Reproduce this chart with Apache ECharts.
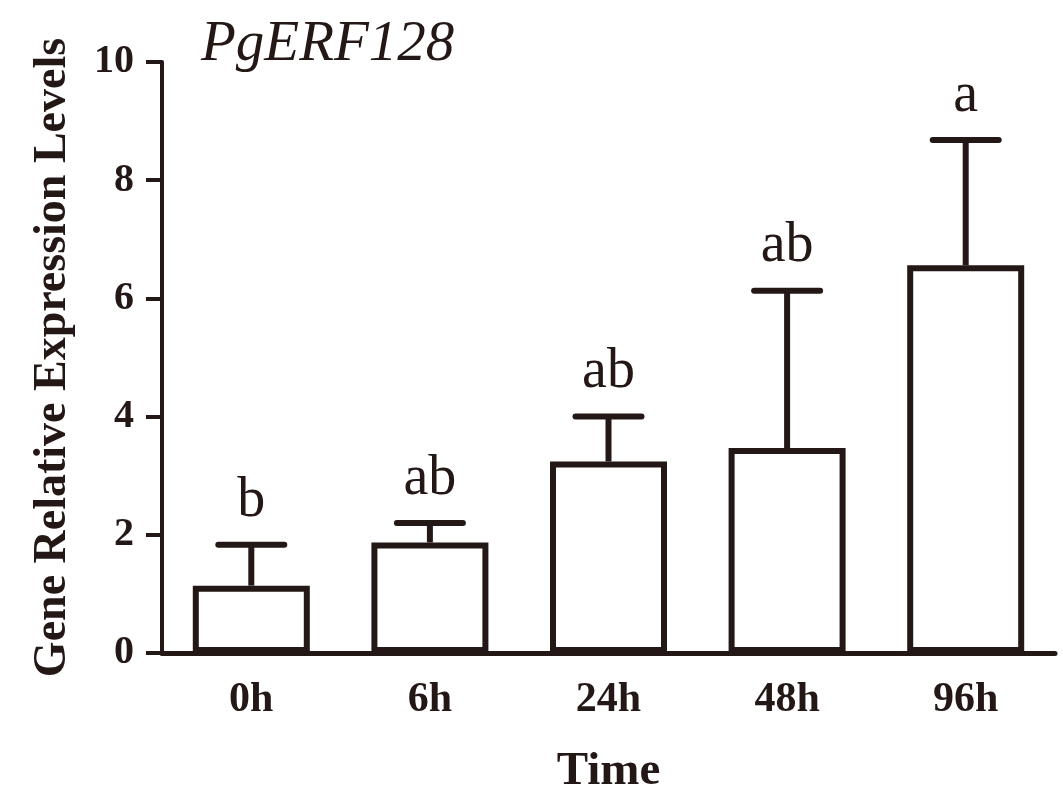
<!DOCTYPE html>
<html>
<head>
<meta charset="utf-8">
<script src="https://cdn.jsdelivr.net/npm/echarts@6/dist/echarts.min.js"></script>
<style>
  html, body { margin: 0; padding: 0; background: #fff; }
  #chart { width: 1063px; height: 788px; }
</style>
</head>
<body>
<div id="chart"></div>
<script>
// data
var times = ["0h", "6h", "24h", "48h", "96h"];
var means = [1.14, 1.87, 3.24, 3.47, 6.56];
var errTops = [1.83, 2.20, 4.00, 6.13, 8.68];
var letters = ["b", "ab", "ab", "ab", "a"];
var yTicks = [0, 2, 4, 6, 8, 10];

var ink = "#231815";
var serif = "'Liberation Serif', 'Times New Roman', serif";

var chartDom = document.getElementById("chart");
var myChart = echarts.init(chartDom);

var errData = times.map(function (t, i) {
  return [i, means[i], errTops[i]];
});

function renderErr(params, api) {
  var base = api.coord([api.value(0), api.value(1)]);
  var top = api.coord([api.value(0), api.value(2)]);
  var half = 33;
  var st = { stroke: ink, lineWidth: 6, lineCap: "round" };
  return {
    type: "group",
    children: [
      { type: "line", shape: { x1: base[0], y1: base[1], x2: top[0], y2: top[1] }, style: { stroke: ink, lineWidth: 6 } },
      { type: "line", shape: { x1: top[0] - half, y1: top[1], x2: top[0] + half, y2: top[1] }, style: st },
      {
        type: "text",
        x: top[0],
        y: top[1] - 16,
        style: {
          text: letters[params.dataIndex],
          fill: ink,
          font: "56px " + serif,
          align: "center",
          verticalAlign: "bottom"
        }
      }
    ]
  };
}

var option = {
  animation: false,
  backgroundColor: "#fff",
  title: {
    text: "PgERF128",
    left: 196,
    top: 12,
    textStyle: {
      fontFamily: serif,
      fontStyle: "italic",
      fontWeight: "normal",
      fontSize: 57,
      color: ink
    }
  },
  grid: { left: 162, right: 8, top: 62, bottom: 135, outerBoundsMode: "none" },
  xAxis: {
    type: "category",
    data: times,
    name: "Time",
    nameLocation: "middle",
    nameGap: 95,
    nameTextStyle: { fontFamily: serif, fontWeight: "bold", fontSize: 47, color: ink },
    axisLine: { lineStyle: { color: ink, width: 5 } },
    axisTick: { alignWithLabel: true, length: 16, lineStyle: { color: ink, width: 4 } },
    axisLabel: { margin: 26, fontFamily: serif, fontWeight: "bold", fontSize: 42, color: ink }
  },
  yAxis: {
    type: "value",
    min: yTicks[0],
    max: yTicks[yTicks.length - 1],
    interval: 2,
    name: "Gene Relative Expression Levels",
    nameLocation: "middle",
    nameGap: 86,
    nameRotate: 90,
    nameTextStyle: { fontFamily: serif, fontWeight: "bold", fontSize: 46, color: ink },
    splitLine: { show: false },
    axisLine: { show: true, lineStyle: { color: ink, width: 4 } },
    axisTick: { show: true, length: 16, lineStyle: { color: ink, width: 4 } },
    axisLabel: { margin: 28, fontFamily: serif, fontWeight: "bold", fontSize: 40, color: ink }
  },
  series: [
    {
      type: "bar",
      data: means,
      barWidth: 117,
      itemStyle: { color: "#fff", borderColor: ink, borderWidth: 6 },
      z: 2
    },
    {
      type: "custom",
      data: errData,
      renderItem: renderErr,
      encode: { x: 0, y: [1, 2] },
      z: 3
    }
  ]
};

option && myChart.setOption(option);
</script>
</body>
</html>
